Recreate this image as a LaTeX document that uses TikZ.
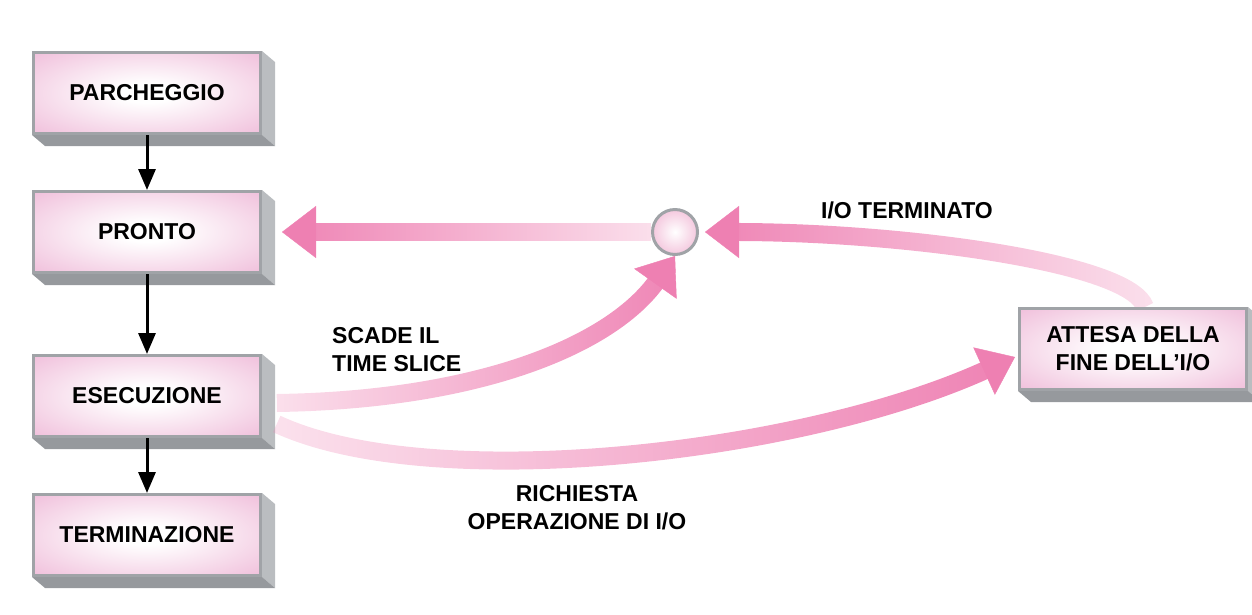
\documentclass[tikz,border=0pt]{standalone}
\usepackage{fontspec}
\setmainfont{Liberation Sans}
\usetikzlibrary{arrows.meta,fadings,calc}
\definecolor{boxpink}{RGB}{238,182,214}
\definecolor{hubpink}{RGB}{244,200,222}
\definecolor{arrpink}{RGB}{238,128,178}
\definecolor{rimgray}{RGB}{160,163,167}
\definecolor{sidegray}{RGB}{186,189,192}
\definecolor{basegray}{RGB}{150,153,157}
\pgfdeclareradialshading{boxglow}{\pgfpoint{0bp}{0bp}}{color(0bp)=(white); color(6bp)=(white); color(40bp)=(boxpink); color(50bp)=(boxpink)}
\tikzfading[name=headleft, left color=transparent!0, right color=transparent!78]
\tikzfading[name=headright, left color=transparent!78, right color=transparent!0]
\pgfdeclarelayer{depth}
\pgfdeclarelayer{arrowlayer}
\pgfsetlayers{depth,arrowlayer,main}
\newcommand\boxdepth[1]{%
  \begin{pgfonlayer}{depth}
    \fill[sidegray] (#1.north east) -- ++(13,11) -- ($(#1.south east)+(13,11)$) -- (#1.south east) -- cycle;
    \fill[basegray] (#1.south west) -- (#1.south east) -- ($(#1.south east)+(13,11)$) -- ($(#1.south west)+(13,11)$) -- cycle;
  \end{pgfonlayer}}
\begin{document}
\begin{tikzpicture}[x=1pt,y=-1pt,
  stbox/.style={rectangle, draw=rimgray, line width=3pt, shade, shading=boxglow,
    minimum width=227pt, minimum height=81pt, inner sep=0pt, align=center,
    font=\fontsize{23}{28}\selectfont\bfseries},
  flow/.style={draw=black, line width=3pt, -{Triangle[width=17pt,length=21pt]}},
  shaft/.style={draw=arrpink, line width=18pt, shorten >=30pt},
  headtip/.style={draw=arrpink, fill=arrpink, line width=0.4pt, -{Triangle[width=52pt,length=34pt]}},
  lbl/.style={inner sep=0pt, font=\fontsize{23}{28}\selectfont\bfseries},
]
\useasboundingbox (0,0) rectangle (1252,614);

% state boxes
\node[stbox] (park) at (147,93) {PARCHEGGIO};
\node[stbox] (pronto) at (147,232) {PRONTO};
\node[stbox] (esec) at (147,396) {ESECUZIONE};
\node[stbox] (term) at (147,535) {TERMINAZIONE};
\node[stbox] (attesa) at (1133,349) {ATTESA DELLA\\FINE DELL'I/O};
\boxdepth{park}
\boxdepth{pronto}
\boxdepth{esec}
\boxdepth{term}
\boxdepth{attesa}

% junction circle
\node[circle, draw=rimgray, line width=3pt, inner color=white, outer color=hubpink,
  minimum size=45pt, inner sep=0pt] (hub) at (675,232) {};

% vertical flow
\draw[flow] (park) -- (pronto);
\draw[flow] (pronto) -- (esec);
\draw[flow] (esec) -- (term);

% pink transitions
\coordinate (t0) at ($(pronto.east)+(20,0)$);
\coordinate (s1) at ($(esec.east)+(15,7)$);
\coordinate (s2) at ($(esec.east)+(15,28)$);
\coordinate (s3) at ($(attesa.north)+(12,0)$);
\coordinate (t2) at ($(attesa.west)+(-3,8)$);
\coordinate (t3) at ($(hub.east)+(6,0)$);
\begin{pgfonlayer}{arrowlayer}
% shafts (invisible move-tos first widen the fading box)
\draw[shaft, path fading=headleft] (280,218) (660,246) (hub) -- (t0);
\draw[shaft, path fading=headright] (268,416) (692,248) (s1) .. controls (480,400) and (612,345) .. (hub.south);
\draw[shaft, path fading=headright] (268,500) (1022,338) (s2) .. controls (430,495) and (800,455) .. (t2);
\draw[shaft, path fading=headleft] (698,214) (1162,314) (s3) .. controls (1130,262) and (900,232) .. (t3);
% solid heads
\draw[headtip] ($(t0)+(1,0)$) -- (t0);
\draw[headtip] ($(hub.south)!1pt!(612,345)$) -- (hub.south);
\draw[headtip] ($(t2)!1pt!(800,455)$) -- (t2);
\draw[headtip] ($(t3)+(1,0)$) -- (t3);
\end{pgfonlayer}

% labels
\node[lbl, anchor=north west, align=left] (scade) at (332,327) {SCADE IL\\TIME SLICE};
\node[lbl, anchor=north, align=center] (rich) at (577,485) {RICHIESTA\\OPERAZIONE DI I/O};
\node[lbl, anchor=north] (iot) at (907,202) {I/O TERMINATO};
\end{tikzpicture}
\end{document}
